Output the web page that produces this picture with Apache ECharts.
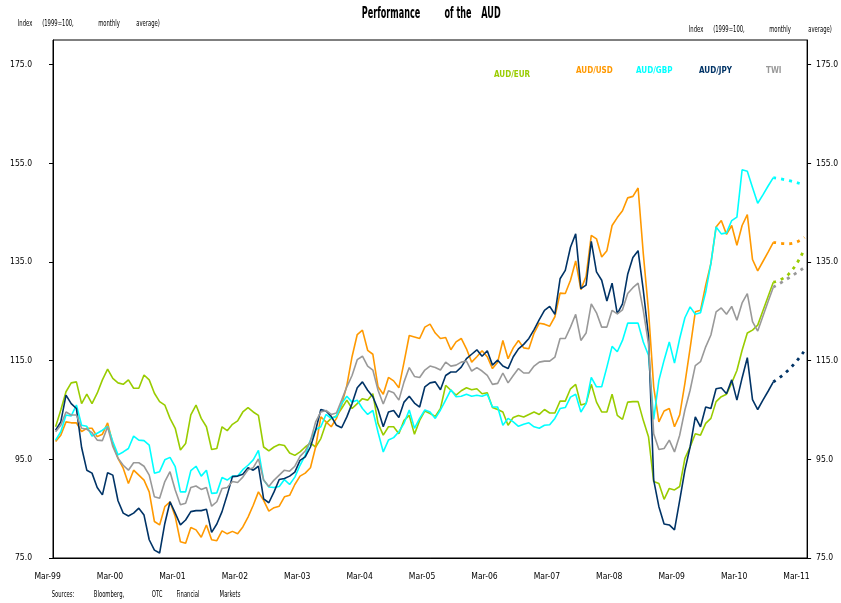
<!DOCTYPE html>
<html>
<head>
<meta charset="utf-8">
<title>Performance of the AUD</title>
<script src="https://cdn.jsdelivr.net/npm/echarts@6/dist/echarts.min.js"></script>
<style>
  html, body { margin: 0; padding: 0; background: #fff; }
  #chart { width: 841px; height: 603px; }
</style>
</head>
<body>
<div id="chart"></div>
<script>
// month categories Mar-99 .. Mar-11
const monthNames = ['Jan', 'Feb', 'Mar', 'Apr', 'May', 'Jun', 'Jul', 'Aug', 'Sep', 'Oct', 'Nov', 'Dec'];
const months = [];
for (let k = 0; k <= 144; k++) {
  const m = (2 + k) % 12;
  const y = 1999 + Math.floor((2 + k) / 12);
  months.push(monthNames[m] + '-' + String(y % 100).padStart(2, '0'));
}

const yTicks = [75, 95, 115, 135, 155, 175];

// monthly index values, Mar-99 .. Sep-10
const audEur = [
  101.6, 105.0, 108.7, 110.5, 110.7, 106.3, 108.2, 106.3, 108.4, 111.1, 113.3, 111.4,
  110.5, 110.2, 111.1, 109.4, 109.4, 112.1, 111.1, 108.4, 106.7, 106.0, 103.3, 101.3,
  96.9, 98.2, 104.0, 106.0, 103.3, 101.6, 97.0, 97.2, 101.6, 100.8, 102.1, 102.8,
  104.6, 105.5, 104.6, 103.9, 97.5, 96.7, 97.5, 98.0, 97.8, 96.3, 95.8, 96.5,
  97.5, 98.3, 97.5, 99.2, 102.3, 103.3, 103.8, 105.3, 107.0, 105.3, 106.3, 107.3,
  107.0, 108.3, 102.3, 99.9, 101.6, 101.6, 100.2, 102.9, 103.9, 100.1, 102.9, 104.8,
  104.3, 103.7, 105.3, 110.0, 109.0, 108.0, 108.9, 109.5, 109.1, 109.3, 108.3, 108.5,
  105.5, 105.1, 104.6, 101.9, 103.5, 103.9, 103.6, 104.1, 104.6, 104.1, 105.1, 104.4,
  104.4, 106.8, 106.8, 109.3, 110.2, 106.0, 106.3, 110.2, 106.6, 104.6, 104.6, 108.2,
  103.9, 103.1, 106.6, 106.7, 106.7, 102.9, 99.6, 90.5, 90.1, 86.9, 89.1, 88.8,
  89.5, 95.2, 97.5, 100.2, 99.9, 102.3, 103.3, 106.7, 107.7, 108.2, 110.5, 113.0,
  117.1, 120.6, 121.2, 122.2, 125.1, 128.0, 130.9
];
const audUsd = [
  98.6, 99.9, 102.6, 102.4, 102.4, 100.6, 101.3, 101.3, 99.6, 100.1, 102.4, 98.2,
  95.2, 93.2, 90.1, 92.8, 91.8, 90.8, 88.4, 82.4, 81.7, 85.4, 86.4, 83.4,
  78.3, 78.0, 81.2, 80.7, 79.2, 81.7, 78.7, 78.5, 80.5, 79.9, 80.4, 79.9,
  81.3, 83.3, 85.7, 88.4, 86.7, 84.5, 85.2, 85.5, 87.4, 87.7, 89.9, 91.6,
  92.2, 93.3, 97.5, 103.6, 102.6, 101.6, 103.3, 106.0, 110.0, 115.8, 120.3, 121.2,
  117.1, 116.3, 109.7, 108.2, 111.6, 110.9, 109.5, 114.7, 120.1, 119.8, 119.5, 121.8,
  122.4, 120.6, 119.5, 119.7, 117.2, 118.8, 119.5, 117.4, 114.7, 115.8, 117.0, 115.8,
  113.4, 114.7, 119.1, 115.4, 117.6, 119.1, 117.6, 117.4, 120.6, 122.6, 122.4, 122.0,
  123.9, 128.7, 128.6, 131.3, 135.2, 129.4, 132.1, 140.4, 139.7, 136.0, 137.3, 142.4,
  144.0, 145.4, 148.0, 148.3, 150.0, 136.7, 125.2, 109.7, 102.6, 104.8, 105.3, 101.6,
  104.0, 110.4, 117.5, 124.9, 125.2, 130.3, 134.7, 142.1, 143.4, 140.6, 142.4, 138.4,
  142.4, 144.6, 135.5, 133.2, 135.1, 137.0, 139.0
];
const audGbp = [
  98.9, 100.6, 104.0, 103.8, 106.0, 101.9, 101.7, 99.7, 100.3, 100.9, 101.7, 98.6,
  95.9, 96.5, 97.2, 99.7, 98.9, 98.8, 97.9, 92.2, 92.5, 94.9, 95.4, 93.5,
  88.4, 88.4, 92.7, 93.6, 91.6, 92.8, 88.1, 88.2, 91.3, 90.8, 91.6, 91.6,
  92.9, 93.8, 94.9, 96.8, 90.8, 89.4, 89.3, 89.5, 90.9, 89.9, 91.4, 93.8,
  95.8, 98.9, 101.0, 101.6, 104.1, 103.3, 103.7, 106.3, 107.8, 106.6, 107.0, 105.3,
  104.1, 104.9, 100.5, 96.5, 98.9, 99.4, 100.6, 102.3, 105.0, 101.3, 103.3, 105.0,
  104.6, 103.3, 105.0, 107.0, 109.1, 107.7, 107.8, 108.2, 107.8, 108.0, 107.8, 108.2,
  105.6, 105.6, 101.9, 103.3, 102.6, 101.7, 102.1, 102.4, 101.6, 101.3, 101.9, 102.0,
  103.3, 105.3, 105.5, 107.6, 108.2, 104.6, 106.3, 111.6, 109.7, 109.7, 113.7, 117.9,
  116.8, 119.1, 122.6, 122.6, 122.6, 118.8, 116.1, 103.1, 111.0, 115.1, 118.8, 114.5,
  119.5, 123.7, 125.9, 124.4, 124.7, 128.9, 134.7, 142.1, 140.7, 140.9, 143.4, 144.1,
  153.7, 153.4, 150.1, 146.9, 148.6, 150.4, 152.1
];
const audJpy = [
  100.9, 102.6, 108.0, 106.3, 105.3, 97.4, 92.8, 92.2, 89.3, 87.8, 92.3, 91.8,
  86.6, 84.1, 83.5, 84.1, 85.1, 83.7, 78.7, 76.6, 76.0, 82.0, 86.4, 84.1,
  81.7, 82.7, 84.4, 84.6, 84.6, 84.9, 80.2, 81.9, 84.4, 87.8, 91.5, 91.6,
  92.0, 93.3, 92.8, 93.6, 87.0, 86.2, 88.4, 90.9, 91.1, 91.6, 92.4, 94.8,
  95.5, 97.5, 100.9, 105.1, 104.8, 103.7, 101.9, 101.4, 103.6, 106.3, 109.5, 110.7,
  109.0, 107.7, 105.1, 101.6, 104.6, 104.9, 103.5, 106.6, 107.8, 106.4, 105.6, 109.7,
  110.5, 110.7, 109.1, 112.0, 112.7, 112.7, 113.7, 115.4, 116.3, 117.2, 115.9, 117.0,
  114.1, 115.1, 113.9, 113.4, 115.8, 117.4, 118.3, 119.5, 121.3, 123.3, 125.2, 126.0,
  124.4, 131.6, 133.3, 138.0, 140.7, 129.6, 130.3, 139.2, 133.0, 131.3, 127.1, 130.7,
  124.5, 126.5, 132.5, 135.9, 137.3, 129.3, 120.0, 90.8, 85.4, 81.9, 81.7, 80.7,
  86.7, 92.8, 97.5, 103.6, 101.6, 105.6, 105.3, 109.3, 109.5, 108.3, 111.1, 107.0,
  111.5, 115.6, 107.1, 105.1, 107.0, 108.8, 110.7
];
const twi = [
  100.6, 101.9, 104.6, 104.0, 104.0, 101.3, 101.1, 100.4, 98.9, 98.8, 101.6, 97.6,
  95.2, 93.8, 92.8, 94.3, 94.3, 93.6, 91.8, 87.4, 87.1, 90.5, 92.5, 88.8,
  85.8, 86.1, 89.3, 89.6, 88.9, 89.3, 85.5, 86.4, 89.1, 89.3, 90.5, 90.3,
  91.4, 92.9, 93.3, 95.1, 90.8, 89.5, 90.8, 91.8, 92.8, 92.6, 93.6, 95.6,
  96.7, 98.7, 102.6, 104.6, 104.9, 104.1, 104.4, 107.0, 109.7, 112.0, 115.2, 115.9,
  113.9, 113.1, 109.0, 106.2, 108.9, 108.5, 107.0, 110.7, 113.6, 111.8, 111.6, 113.1,
  113.9, 113.6, 113.1, 114.7, 113.9, 114.1, 114.7, 114.9, 112.9, 113.6, 112.9, 112.0,
  110.2, 110.4, 112.5, 110.5, 112.0, 113.4, 112.5, 112.5, 113.9, 114.7, 114.9, 114.9,
  115.7, 119.5, 119.5, 121.8, 124.4, 119.1, 120.6, 126.5, 124.7, 121.8, 121.8, 125.2,
  124.5, 125.3, 128.6, 129.8, 130.7, 125.2, 118.4, 100.2, 97.0, 97.2, 98.9, 96.5,
  99.9, 105.0, 109.0, 114.0, 114.8, 117.8, 120.2, 124.9, 125.7, 124.4, 126.0, 123.2,
  126.7, 128.6, 122.9, 121.0, 124.0, 127.0, 129.9
];

// dotted projection to Mar-11
const fcMonths = ['Sep-10', 'Dec-10', 'Mar-11'];
const fcEur = [130.9, 132.6, 137.7];
const fcUsd = [139.0, 138.7, 140.0];
const fcGbp = [152.1, 151.5, 150.6];
const fcJpy = [110.7, 113.2, 117.0];
const fcTwi = [129.9, 131.8, 133.9];

const FONT = "'Liberation Sans Narrow', 'DejaVu Sans Condensed', 'Liberation Sans', sans-serif";

const lines = [
  { name: 'AUD/EUR', color: '#99cc00', data: audEur, fc: fcEur, legendX: 489, legendY: 71 },
  { name: 'AUD/USD', color: '#ff9900', data: audUsd, fc: fcUsd, legendX: 571, legendY: 67 },
  { name: 'AUD/GBP', color: '#00ffff', data: audGbp, fc: fcGbp, legendX: 631, legendY: 67 },
  { name: 'AUD/JPY', color: '#003366', data: audJpy, fc: fcJpy, legendX: 694, legendY: 67 },
  { name: 'TWI', color: '#999999', data: twi, fc: fcTwi, legendX: 761, legendY: 67 }
];

const series = [];
lines.forEach(function (l) {
  series.push({
    name: l.name,
    type: 'line',
    data: l.data,
    symbol: 'none',
    lineStyle: { color: l.color, width: 1.6 },
    itemStyle: { color: l.color }
  });
  series.push({
    name: l.name + ' projection',
    type: 'line',
    data: fcMonths.map(function (m, i) { return [m, l.fc[i]]; }),
    symbol: 'none',
    smooth: true,
    lineStyle: { color: l.color, width: 2.8, type: [3, 5] },
    itemStyle: { color: l.color }
  });
});

const legends = lines.map(function (l) {
  return {
    data: [{ name: l.name, textStyle: { color: l.color } }],
    left: l.legendX,
    top: l.legendY,
    icon: 'none',
    itemWidth: 0,
    itemHeight: 0,
    padding: 0,
    selectedMode: false,
    textStyle: { fontFamily: FONT, fontSize: 8, fontWeight: 'bold' }
  };
});

// free text: words drawn squeezed like the narrow source font
const titleWords = ['Performance', 'of the', 'AUD'];
const titleX = [391, 458, 491];
const captionWords = ['Index', '(1999=100,', 'monthly', 'average)'];
const captionLeftX = [25, 58, 109, 148];
const captionRightX = [696, 729, 780, 820];
const sourceWords = ['Sources:', 'Bloomberg,', 'OTC', 'Financial', 'Markets'];
const sourceX = [63, 109, 157, 188, 230];

function word(text, x, y, size, weight, sx) {
  return {
    type: 'text',
    x: x,
    y: y,
    scaleX: sx,
    silent: true,
    style: {
      text: text, x: 0, y: 0, align: 'center', verticalAlign: 'top',
      fontFamily: FONT, fontSize: size, fontWeight: weight, fill: '#000'
    }
  };
}

const graphics = [];
titleWords.forEach(function (w, i) { graphics.push(word(w, titleX[i], 7, 15, 'bold', 0.6)); });
captionWords.forEach(function (w, i) {
  graphics.push(word(w, captionLeftX[i], 19, 9, 'normal', 0.65));
  graphics.push(word(w, captionRightX[i], 25, 9, 'normal', 0.65));
});
sourceWords.forEach(function (w, i) { graphics.push(word(w, sourceX[i], 590, 9, 'normal', 0.65)); });

const chart = echarts.init(document.getElementById('chart'), null, { renderer: 'canvas' });

const yAxisBase = {
  type: 'value',
  min: 75,
  max: 180,
  axisLine: { show: true, lineStyle: { color: '#000', width: 1 } },
  axisTick: { show: true, length: 4, customValues: yTicks, lineStyle: { color: '#000' } },
  splitLine: { show: false }
};

const option = {
  animation: false,
  backgroundColor: '#fff',
  legend: legends,
  graphic: graphics,
  grid: {
    left: 53, right: 24, top: 40, bottom: 45,
    show: true, borderColor: '#000', borderWidth: 1
  },
  xAxis: {
    type: 'category',
    data: months,
    boundaryGap: true,
    axisLine: { lineStyle: { color: '#000', width: 1 } },
    axisTick: { interval: 11, length: 4, lineStyle: { color: '#000' } },
    axisLabel: {
      interval: 11,
      margin: 14,
      padding: [0, 16, 0, 0],
      fontFamily: FONT,
      fontSize: 8.5,
      color: '#000'
    }
  },
  yAxis: [
    Object.assign({}, yAxisBase, {
      position: 'left',
      axisLabel: {
        customValues: yTicks, margin: 21, fontFamily: FONT, fontSize: 8.5, color: '#000',
        formatter: function (v) { return v.toFixed(1); }
      }
    }),
    Object.assign({}, yAxisBase, {
      position: 'right',
      axisLabel: {
        customValues: yTicks, margin: 9, fontFamily: FONT, fontSize: 8.5, color: '#000',
        formatter: function (v) { return v.toFixed(1); }
      }
    })
  ],
  series: series
};

chart.setOption(option);
window.addEventListener('resize', function () { chart.resize(); });
</script>
</body>
</html>
